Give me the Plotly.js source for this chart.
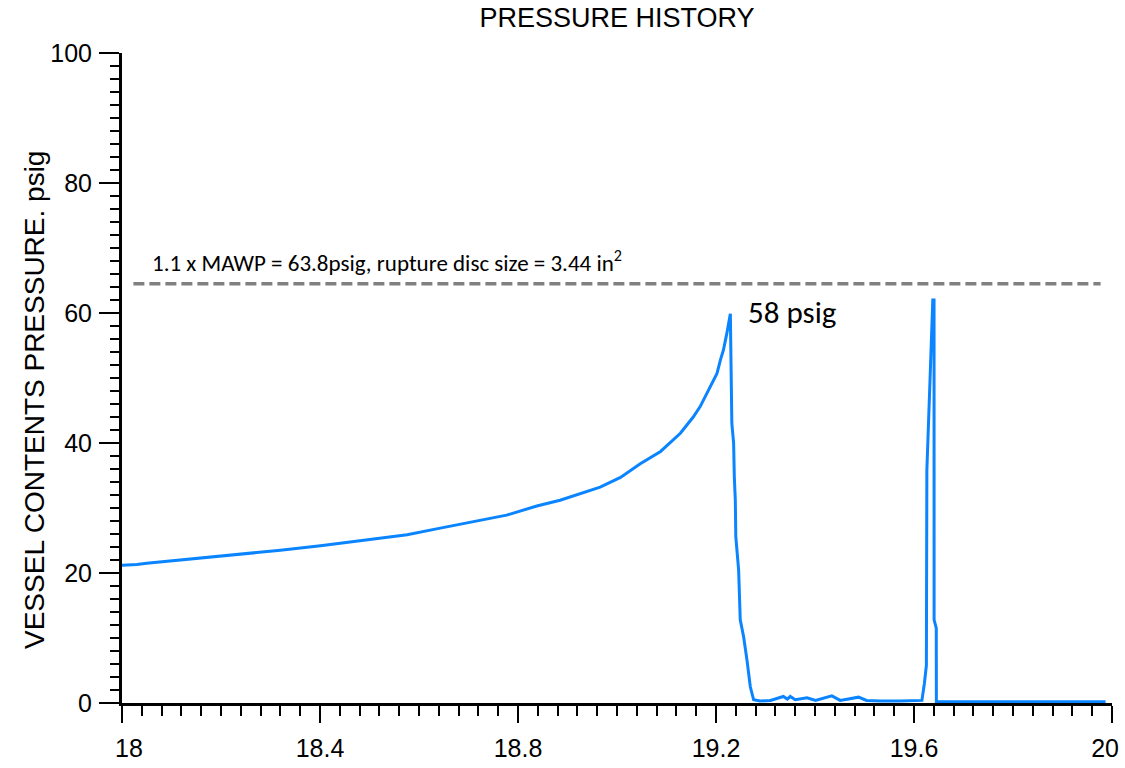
<!DOCTYPE html>
<html>
<head>
<meta charset="utf-8">
<script src="https://cdn.plot.ly/plotly-3.0.1.min.js"></script>
<style>html,body{margin:0;padding:0;background:#fff;}#chart{width:1125px;height:768px;}</style>
</head>
<body>
<div id="chart"></div>
<script>
// Time axis values (x) and vessel pressure (psig)
const time = [
  18.000, 18.030, 18.050, 18.091, 18.158, 18.239, 18.320, 18.401, 18.441, 18.480,
  18.508, 18.576, 18.643, 18.710, 18.777, 18.838, 18.885, 18.966, 19.007, 19.047,
  19.088, 19.128, 19.154, 19.168, 19.182, 19.195, 19.202, 19.209, 19.215, 19.222,
  19.229, 19.232, 19.2356, 19.237, 19.239, 19.240, 19.2457, 19.249, 19.2558, 19.2626,
  19.2693, 19.276, 19.289, 19.310, 19.336, 19.344, 19.350, 19.360, 19.384, 19.401,
  19.434, 19.451, 19.488, 19.504, 19.532, 19.572, 19.613, 19.616, 19.621, 19.625,
  19.626, 19.638, 19.6405, 19.6406, 19.645, 19.6452, 19.987
];
const pressure = [
  21.2, 21.3, 21.5, 21.8, 22.2, 22.8, 23.5, 24.2, 24.6, 25.0,
  25.2, 25.9, 26.9, 27.9, 28.9, 30.3, 31.2, 33.2, 34.7, 36.8,
  38.7, 41.5, 44.0, 45.6, 47.6, 49.7, 50.7, 52.8, 54.3, 56.9,
  59.9, 43.0, 40.0, 34.8, 31.2, 25.6, 20.5, 12.8, 10.2, 6.6,
  2.5, 0.5, 0.3, 0.4, 1.0, 0.6, 1.0, 0.5, 0.8, 0.4,
  1.1, 0.4, 0.9, 0.4, 0.3, 0.3, 0.5, 0.4, 3.0, 5.8,
  35.8, 62.0, 62.0, 12.8, 11.5, 0.2, 0.2
];
const xTickVals = [18, 18.4, 18.8, 19.2, 19.6, 20];
const xTickText = ["\u00a0\u00a018", "18.4", "18.8", "19.2", "19.6", "20\u00a0\u00a0"];
const yTickVals = [0, 20, 40, 60, 80, 100];
const yTickText = ["0", "20", "40", "60", "80", "100"];
const limitLine = {value: 64.5, x0: 18.023, x1: 19.977};
const limitLabel = "1.1 x MAWP = 63.8psig, rupture disc size = 3.44 in<sup>2</sup>";
const peakLabel = "58 psig";

const axisFont = {family: "Arial, 'Liberation Sans', sans-serif", size: 25, color: "#000"};
const calFont = "Carlito, Calibri, Lato, sans-serif";

const trace = {
  x: time, y: pressure, type: "scatter", mode: "lines",
  line: {color: "#0a84ff", width: 3},
  hoverinfo: "skip", showlegend: false
};

const layout = {
  width: 1125, height: 768,
  margin: {l: 122, r: 13, t: 53, b: 65},
  paper_bgcolor: "#fff", plot_bgcolor: "#fff",
  title: {
    text: "PRESSURE HISTORY",
    font: {family: "Arial, 'Liberation Sans', sans-serif", size: 27, color: "#000"},
    x: 0.5, xref: "paper", y: 1 - 18/768, yref: "container", yanchor: "middle"
  },
  xaxis: {
    range: [18, 20], tickmode: "array", tickvals: xTickVals, ticktext: xTickText,
    ticks: "outside", ticklen: 17, tickwidth: 2, tickcolor: "#000",
    showline: true, linewidth: 3, linecolor: "#000",
    showgrid: false, zeroline: false, tickfont: axisFont, ticklabelstandoff: 4,
    ticklabeloverflow: "allow",
    minor: {tickmode: "linear", tick0: 18, dtick: 0.04, ticks: "outside", ticklen: 10, tickwidth: 2, tickcolor: "#000", showgrid: false},
    fixedrange: true
  },
  yaxis: {
    range: [0, 100], tickmode: "array", tickvals: yTickVals, ticktext: yTickText,
    ticks: "outside", ticklen: 20, tickwidth: 2, tickcolor: "#000",
    showline: true, linewidth: 3, linecolor: "#000",
    showgrid: false, zeroline: false, tickfont: axisFont, ticklabelstandoff: 2,
    minor: {tickmode: "linear", tick0: 0, dtick: 2, ticks: "outside", ticklen: 9, tickwidth: 2, tickcolor: "#000", showgrid: false},
    fixedrange: true
  },
  shapes: [{
    type: "line", xref: "x", yref: "y",
    x0: limitLine.x0, x1: limitLine.x1, y0: limitLine.value, y1: limitLine.value,
    line: {color: "#808080", width: 3.5, dash: "11px,5px"}
  }],
  annotations: [
    {
      text: limitLabel, xref: "paper", yref: "y", x: (150-122)/990, y: 68.0,
      xanchor: "left", yanchor: "middle", showarrow: false,
      font: {family: calFont, size: 23, color: "#000"}
    },
    {
      text: peakLabel, xref: "x", yref: "y", x: 19.354, y: 60.2,
      xanchor: "center", yanchor: "middle", showarrow: false,
      font: {family: calFont, size: 31, color: "#000"}
    },
    {
      text: "VESSEL CONTENTS PRESSURE. psig", xref: "paper", yref: "paper",
      x: (34-122)/990, y: (703-400)/650, xanchor: "center", yanchor: "middle",
      textangle: -90, showarrow: false,
      font: {family: "Arial, 'Liberation Sans', sans-serif", size: 28, color: "#000"}
    }
  ]
};

Plotly.newPlot("chart", [trace], layout, {displayModeBar: false, staticPlot: true});
</script>
</body>
</html>
